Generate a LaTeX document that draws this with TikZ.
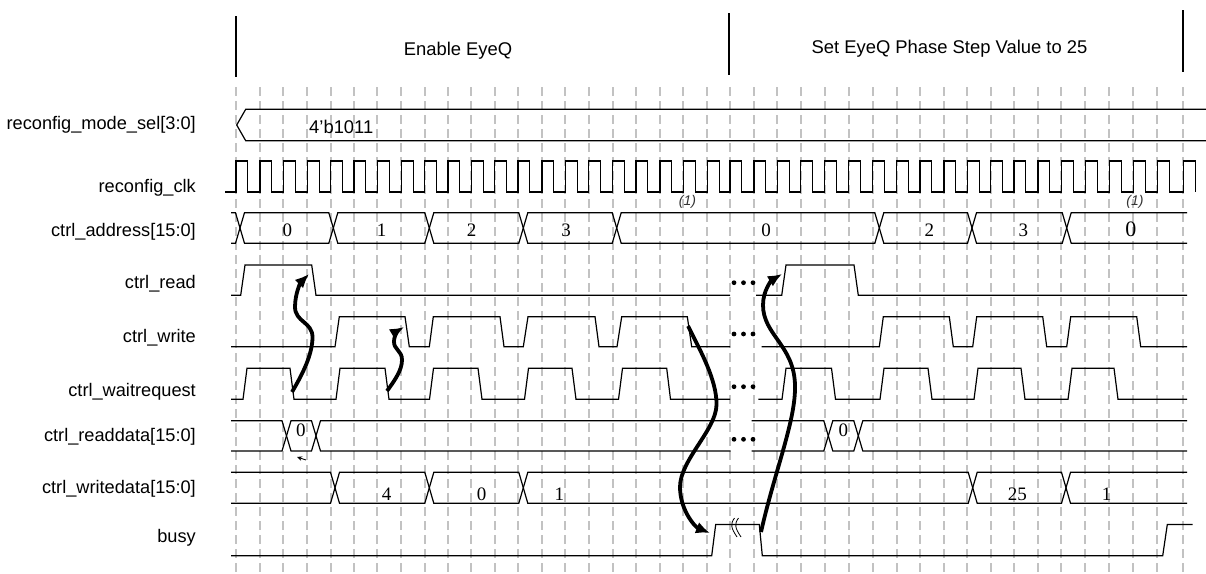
\documentclass[tikz,border=0pt]{standalone}
\usepackage{fontspec}
\setmainfont{Liberation Sans}
\newfontfamily\serifdig{Liberation Serif}
\newfontfamily\noteit{Liberation Sans Italic}
\usetikzlibrary{arrows.meta}
\newcommand{\tbseg}[4]{\draw[sig] (#1,{(#3+#4)/2}) -- ({#1+4.5},#3) -- ({#2-4.5},#3) -- (#2,{(#3+#4)/2}) -- ({#2-4.5},#4) -- ({#1+4.5},#4) -- cycle;}
\newcommand{\tbstart}[4]{\draw[sig] (#1,#3) -- ({#2-4.5},#3) -- (#2,{(#3+#4)/2}) -- ({#2-4.5},#4) -- (#1,#4);}
\newcommand{\tbend}[4]{\draw[sig] (#2,#3) -- ({#1+4.5},#3) -- (#1,{(#3+#4)/2}) -- ({#1+4.5},#4) -- (#2,#4);}
\begin{document}
\begin{tikzpicture}[x=1pt,y=-1pt,
  sig/.style={line width=1.2pt,black,line join=miter},
  gridl/.style={line width=2pt,color=black!24,dash pattern=on 9pt off 5pt},
  hdr/.style={line width=1.3pt,black},
  lbl/.style={anchor=base east,inner sep=0pt,font=\fontsize{18.2}{22}\selectfont},
  ttl/.style={anchor=base,inner sep=0pt,font=\fontsize{18.4}{22}\selectfont},
  val/.style={anchor=base,inner sep=0pt,font=\serifdig\fontsize{19}{22}\selectfont},
  note/.style={anchor=center,inner sep=0pt,text=black!80,font=\noteit\fontsize{14}{16}\selectfont},
  arr/.style={line width=3.8pt,black,-{Latex[length=14pt,width=12pt]}},
  dot/.style={fill=black,draw=none}]
\useasboundingbox (0,0) rectangle (1206,573);
\fill[white] (0,0) rectangle (1206,573);

% grid
\foreach \gx in {236,260,283.3,307.3,330.7,354,377.3,401.3,424.7,448,471.3,494.7,518,542,565.3,588.7,612.7,636,660,683.3,707.3,730,754,777.3,800.7,824.7,848.7,872.7,896.7,920,944,967.3,990.7,1014,1038,1061.3,1085.3,1109.3,1133.3,1157.3,1183.3}
  \draw[gridl] (\gx,87) -- (\gx,573);

% header
\draw[hdr] (236,16) -- (236,77);
\draw[hdr] (729,13) -- (729,75);
\draw[hdr] (1183,10) -- (1183,72);
\node[ttl] (t1) at (458,55) {Enable EyeQ};
\node[ttl] (t2) at (949.5,53.3) {Set EyeQ Phase Step Value to 25};

% signal names
\node[lbl] (l1) at (196,129) {reconfig\_mode\_sel[3:0]};
\node[lbl] (l2) at (196,192) {reconfig\_clk};
\node[lbl] (l3) at (196,236) {ctrl\_address[15:0]};
\node[lbl] (l4) at (196,288) {ctrl\_read};
\node[lbl] (l5) at (196,342) {ctrl\_write};
\node[lbl] (l6) at (196,396.5) {ctrl\_waitrequest};
\node[lbl] (l7) at (196,441.5) {ctrl\_readdata[15:0]};
\node[lbl] (l8) at (196,493.3) {ctrl\_writedata[15:0]};
\node[lbl] (l9) at (196,542.3) {busy};

% reconfig_mode_sel
\draw[sig] (1206,109.3) -- (245.7,109.3) -- (236.7,125) -- (245.7,140.7) -- (1206,140.7);
\node[anchor=base west,inner sep=0pt,font=\fontsize{18.4}{22}\selectfont] (ms) at (309,133) {4’b1011};

% reconfig_clk
\draw[sig] (225,192) \foreach \gx in {236,260,283.3,307.3,330.7,354,377.3,401.3,424.7,448,471.3,494.7,518,542,565.3,588.7,612.7,636,660,683.3,707.3,730,754,777.3,800.7,824.7,848.7,872.7,896.7,920,944,967.3,990.7,1014,1038,1061.3,1085.3,1109.3,1133.3,1157.3,1183.3} { -- (\gx,192) -- (\gx,161) -- ({\gx+11.8},161) -- ({\gx+11.8},192) };

% ctrl_address
\tbstart{231}{240}{212.7}{243.3}
\tbseg{240}{333.3}{212.7}{243.3}
\tbseg{333.3}{429.3}{212.7}{243.3}
\tbseg{429.3}{523.3}{212.7}{243.3}
\tbseg{523.3}{616.7}{212.7}{243.3}
\tbseg{616.7}{879.3}{212.7}{243.3}
\tbseg{879.3}{972}{212.7}{243.3}
\tbseg{972}{1066.7}{212.7}{243.3}
\tbend{1066.7}{1187}{212.7}{243.3}
\node[val] (ad0) at (287.3,236.7) {0};
\node[val] (ad1) at (381.7,236.7) {1};
\node[val] (ad2) at (471.7,236.7) {2};
\node[val] (ad3) at (566,236.7) {3};
\node[val] (ad4) at (766,236.7) {0};
\node[val] (ad5) at (929.3,236.7) {2};
\node[val] (ad6) at (1023.3,236.7) {3};
\node[val,font=\serifdig\fontsize{22}{24}\selectfont] (ad7) at (1130.8,236.7) {0};
\node[note] (n1) at (687.5,201.7) {(1)};
\node[note] (n2) at (1135,201.5) {(1)};

% ctrl_read
\draw[sig] (231,295.3) -- (240.7,295.3) -- (245,265) -- (311.7,265) -- (316,295.3) -- (730,295.3);
\draw[sig] (756,295.3) -- (781.7,295.3) -- (786,265) -- (854,265) -- (858.3,295.3) -- (1187,295.3);

% ctrl_write
\draw[sig] (231,346.7) -- (335,346.7) -- (339.3,316.7) -- (405,316.7) -- (409.3,346.7) -- (429.3,346.7) -- (433.3,316.7) -- (500,316.7) -- (504,346.7) -- (523.3,346.7) -- (528,316.7) -- (595,316.7) -- (599,346.7) -- (617,346.7) -- (621.7,316.7) -- (687.3,316.7) -- (691.7,346.7) -- (730,346.7);
\draw[sig] (761.7,346.7) -- (879.3,346.7) -- (883.3,316.7) -- (949.3,316.7) -- (953.3,346.7) -- (972.7,346.7) -- (976.7,316.7) -- (1042.7,316.7) -- (1046.7,346.7) -- (1066.7,346.7) -- (1070.7,316.7) -- (1136.7,316.7) -- (1140.7,346.7) -- (1187,346.7);

% ctrl_waitrequest
\draw[sig] (231,399.3) -- (243,399.3) -- (247,368.3) -- (290,368.3) -- (294,399.3) -- (336,399.3) -- (340,368.3) -- (385,368.3) -- (389,399.3) -- (429.5,399.3) -- (433.5,368.3) -- (478,368.3) -- (482,399.3) -- (524.5,399.3) -- (528.5,368.3) -- (572,368.3) -- (576,399.3) -- (618.5,399.3) -- (622.5,368.3) -- (666.7,368.3) -- (670.5,399.3) -- (730,399.3);
\draw[sig] (758.3,399.3) -- (782,399.3) -- (786,368.3) -- (831.5,368.3) -- (835.5,399.3) -- (880,399.3) -- (884,368.3) -- (928,368.3) -- (932,399.3) -- (974,399.3) -- (978,368.3) -- (1021,368.3) -- (1025,399.3) -- (1068,399.3) -- (1072,368.3) -- (1114,368.3) -- (1118,399.3) -- (1187,399.3);

% ctrl_readdata
\tbstart{231}{286.5}{420.7}{451}
\tbseg{286.5}{316}{420.7}{451}
\tbend{316}{730.7}{420.7}{451}
\tbstart{751.7}{828.3}{420.7}{451}
\tbseg{828.3}{858.3}{420.7}{451}
\tbend{858.3}{1187}{420.7}{451}
\node[val] (rd0) at (300.8,436.7) {0};
\node[val] (rd1) at (843.3,436.7) {0};
\draw[line width=0.9pt,-{Stealth[length=5pt,width=4.5pt]}] (306,460) -- (297,457);

% ctrl_writedata
\tbstart{231}{335}{472.3}{503.3}
\tbseg{335}{429.3}{472.3}{503.3}
\tbseg{429.3}{523.3}{472.3}{503.3}
\tbseg{523.3}{972.7}{472.3}{503.3}
\tbseg{972.7}{1066}{472.3}{503.3}
\tbend{1066}{1187}{472.3}{503.3}
\node[val] (wd0) at (386.7,500) {4};
\node[val] (wd1) at (481.7,500) {0};
\node[val] (wd2) at (559.3,500) {1};
\node[val] (wd3) at (1017.3,500) {25};
\node[val] (wd4) at (1106.7,500) {1};

% busy
\draw[sig] (231,555.7) -- (711.7,555.7) -- (715.7,524.5) -- (759.3,524.5) -- (762.3,555.7) -- (1162.7,555.7) -- (1167.3,524.5) -- (1192.7,524.5);
\draw[line width=0.8pt] (734.5,518) .. controls (730,524) and (731,528) .. (737,537);
\draw[line width=0.8pt] (738.5,518) .. controls (734,524) and (735,528) .. (741,537);

% break dots
\foreach \yy in {282.7,334,386.7,439.3}
  \foreach \xx in {734,743.5,753}
    \fill[dot] (\xx,\yy) circle (2.4);

% causality arrows
\coordinate (a1s) at (292,392);
\coordinate (a1e) at (309,274);
\coordinate (a2s) at (387,391);
\coordinate (a2e) at (404,327);
\coordinate (a3s) at (688,326);
\coordinate (a3e) at (710,533);
\coordinate (a4s) at (761,532);
\coordinate (a4e) at (782,274);
\draw[arr] (a1s) .. controls (302,375) and (312.5,355) .. (312.5,337) .. controls (312.5,322) and (295,322) .. (295,307) .. controls (295,293) and (301,282) .. (a1e);
\draw[arr] (a2s) .. controls (395,380) and (402,370) .. (402,360) .. controls (402,350) and (393.5,350) .. (394,341) .. controls (394.5,334) and (399,330) .. (a2e);
\draw[arr] (a3s) .. controls (700,350) and (717,380) .. (716.5,405) .. controls (716,430) and (680,460) .. (680,487) .. controls (680,510) and (695,527) .. (a3e);
\draw[arr] (a4s) .. controls (775,470) and (796,420) .. (795,385) .. controls (794,345) and (763,335) .. (763,305) .. controls (763,290) and (772,280) .. (a4e);
\end{tikzpicture}
\end{document}
